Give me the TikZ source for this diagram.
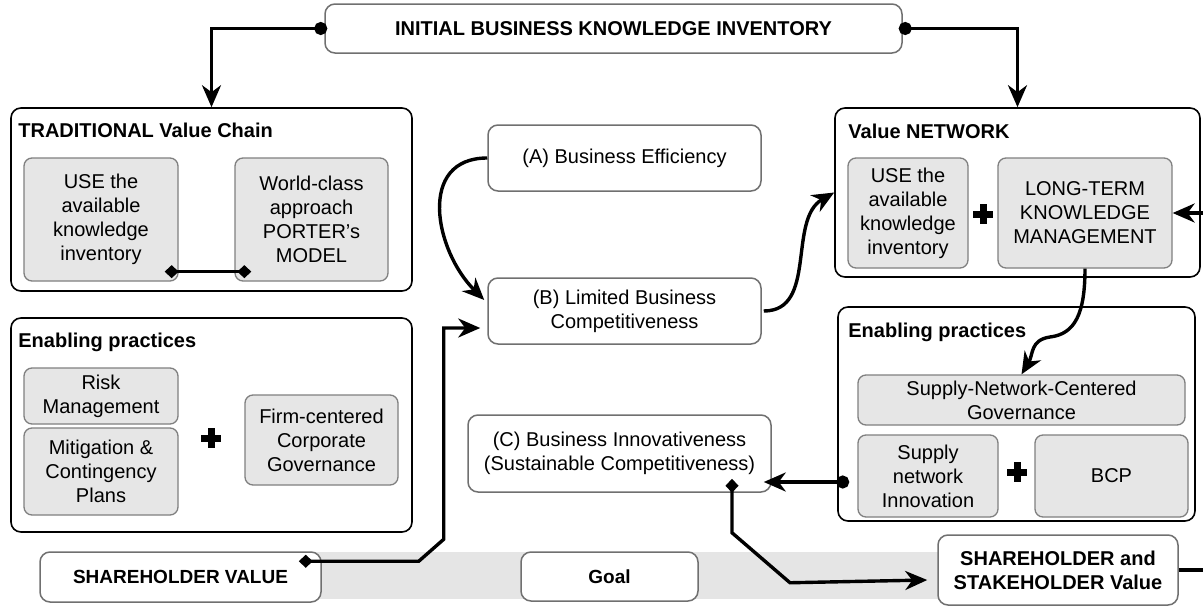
\documentclass[tikz,border=0pt]{standalone}
\usepackage{fontspec}
\setmainfont{Liberation Sans}
\usetikzlibrary{arrows.meta,calc}
\definecolor{boxgray}{HTML}{E6E6E6}
\definecolor{edgegray}{HTML}{808080}
\definecolor{wedge}{HTML}{707070}
\definecolor{bandgray}{HTML}{E5E5E5}
\tikzset{
  myarr/.tip={Stealth[length=22pt,width=19pt,inset=7pt]},
  mydot/.tip={Circle[length=13pt,width=13pt]},
  mydia/.tip={Diamond[length=14pt,width=13pt]},
  outer/.style={draw=black, line width=1.6pt, rounded corners=10pt, fill=white, inner sep=0pt},
  wbox/.style={draw=wedge, line width=1.5pt, rounded corners=10pt, fill=white, align=center, inner sep=0pt},
  gbox/.style={draw=edgegray, line width=1.3pt, rounded corners=8pt, fill=boxgray, align=center, inner sep=0pt},
  boldtext/.style={font=\bfseries\fontsize{20}{24}\selectfont},
  boxtitle/.style={anchor=base west, inner sep=0pt, font=\bfseries\fontsize{20}{24}\selectfont},
  conn/.style={draw=black, line width=3.4pt},
  plussign/.style={minimum size=20pt, inner sep=0pt,
    path picture={\fill[black] ([xshift=-3.5pt]path picture bounding box.north) rectangle ([xshift=3.5pt]path picture bounding box.south);
                  \fill[black] ([yshift=3.5pt]path picture bounding box.west) rectangle ([yshift=-3.5pt]path picture bounding box.east);}}
}
\begin{document}
\begin{tikzpicture}[x=1pt,y=-1pt,font=\fontsize{20}{24}\selectfont]
\useasboundingbox (0,0) rectangle (1203,608);
% goal band
\fill[bandgray] (180,552) rectangle (1000,599);

% top
\node[wbox, boldtext, minimum width=577pt, minimum height=49pt] (top) at (613.5,28.5) {INITIAL BUSINESS KNOWLEDGE INVENTORY};

% traditional value chain
\node[outer, minimum width=401pt, minimum height=183pt] (trad) at (211.5,199.5) {};
\node[boxtitle] (tradt) at ([xshift=8pt,yshift=-30pt]trad.north west) {TRADITIONAL Value Chain};
\node[gbox, minimum width=154pt, minimum height=123pt] (tradA) at (101,219.5) {USE the\\available\\knowledge\\inventory};
\node[gbox, minimum width=153pt, minimum height=123pt] (tradB) at (311.5,219.5) {World-class\\approach\\PORTER’s\\MODEL};

% value network
\node[outer, minimum width=365pt, minimum height=169pt] (vn) at (1017.5,192.5) {};
\node[boxtitle] (vnt) at ([xshift=14pt,yshift=-31pt]vn.north west) {Value NETWORK};
\node[gbox, minimum width=120pt, minimum height=110pt] (vnA) at (908,213) {USE the\\available\\knowledge\\inventory};
\node[gbox, minimum width=174pt, minimum height=110pt] (vnB) at (1085,213) {LONG-TERM\\KNOWLEDGE\\MANAGEMENT};
\node[plussign] (p1) at (983,214) {};

% middle column
\node[wbox, minimum width=273pt, minimum height=66pt] (A) at (624.5,158) {(A) Business Efficiency};
\node[wbox, minimum width=273pt, minimum height=66pt] (B) at (624.5,311) {(B) Limited Business\\Competitiveness};
\node[wbox, minimum width=303pt, minimum height=77pt] (C) at (619.5,453.5) {(C) Business Innovativeness\\(Sustainable Competitiveness)};

% enabling practices left
\node[outer, minimum width=401pt, minimum height=214pt] (epL) at (211.5,425) {};
\node[boxtitle] (epLt) at ([xshift=8pt,yshift=-30pt]epL.north west) {Enabling practices};
\node[gbox, minimum width=154pt, minimum height=56pt] (risk) at (101,396) {Risk\\Management};
\node[gbox, minimum width=154pt, minimum height=87pt] (mit) at (101,471.5) {Mitigation \&\\Contingency\\Plans};
\node[gbox, minimum width=153pt, minimum height=90pt] (firm) at (321.5,440) {Firm-centered\\Corporate\\Governance};
\node[plussign] (p2) at (211,438) {};

% enabling practices right
\node[outer, minimum width=357pt, minimum height=214pt] (epR) at (1016.5,414) {};
\node[boxtitle] (epRt) at ([xshift=11pt,yshift=-31pt]epR.north west) {Enabling practices};
\node[gbox, minimum width=327pt, minimum height=50pt] (sncg) at (1021.5,400) {Supply-Network-Centered\\Governance};
\node[gbox, minimum width=140pt, minimum height=82pt] (sni) at (928,476) {Supply\\network\\Innovation};
\node[gbox, minimum width=153pt, minimum height=82pt] (bcp) at (1111.5,476) {BCP};
\node[plussign] (p3) at (1017,472) {};

% goal row
\node[wbox, font=\bfseries\fontsize{19}{23}\selectfont, minimum width=281pt, minimum height=50pt] (sv) at (180.5,577) {SHAREHOLDER VALUE};
\node[wbox, font=\bfseries\fontsize{19}{23}\selectfont, minimum width=177pt, minimum height=49pt] (goal) at (609.5,576.5) {Goal};
\node[wbox, boldtext, minimum width=240pt, minimum height=70pt] (ss) at (1058,570) {SHAREHOLDER and\\STAKEHOLDER Value};

% free ends
\coordinate (rin) at (1203,213);
\coordinate (rout) at (1203,570);
\coordinate (w1) at (1050,337);

% connectors
\draw[conn, {mydot}-{myarr}] ([xshift=3pt]top.west) -| (trad.north);
\draw[conn, {mydot}-{myarr}] ([xshift=-4pt]top.east) -| (vn.north);
\draw[conn, {mydia}-{mydia}] ([xshift=-14pt,yshift=10pt]tradA.south east) -- ([xshift=17pt,yshift=10pt]tradB.south west);
\draw[conn, -{myarr}] (A.west) .. controls +(-70,0) and +(-50,-50) .. ([xshift=-3pt,yshift=11pt]B.west);
\draw[conn, -{myarr}] ([xshift=2pt]B.east) .. controls +(54,0) and +(-47,27) .. (vn.west);
\draw[conn, -{myarr}] (rin) -- (vnB.east);
\draw[conn, -{myarr}] (vnB.south) .. controls +(0,45) and +(25,-3) .. (w1) .. controls +(-20,3) and +(12,-20) .. (sncg.north);
\draw[conn, {mydot}-{myarr}] ([xshift=12pt,yshift=-68pt]epR.west) -- ([xshift=-8pt,yshift=-28.5pt]C.east);
\draw[conn, {mydia}-{myarr}] ([xshift=-23pt,yshift=-10pt]sv.north east) -- ++(120,0) -- ++(25,-22) |- ([xshift=-7pt,yshift=-17pt]B.west);
\draw[conn, {mydia}-{myarr}] ([xshift=112.5pt,yshift=14pt]C.south) -- ++(0,54) -- ++(58,50) -- ([xshift=-10pt,yshift=-10pt]ss.west);
\draw[conn] (ss.east) -- (rout);
\end{tikzpicture}
\end{document}
